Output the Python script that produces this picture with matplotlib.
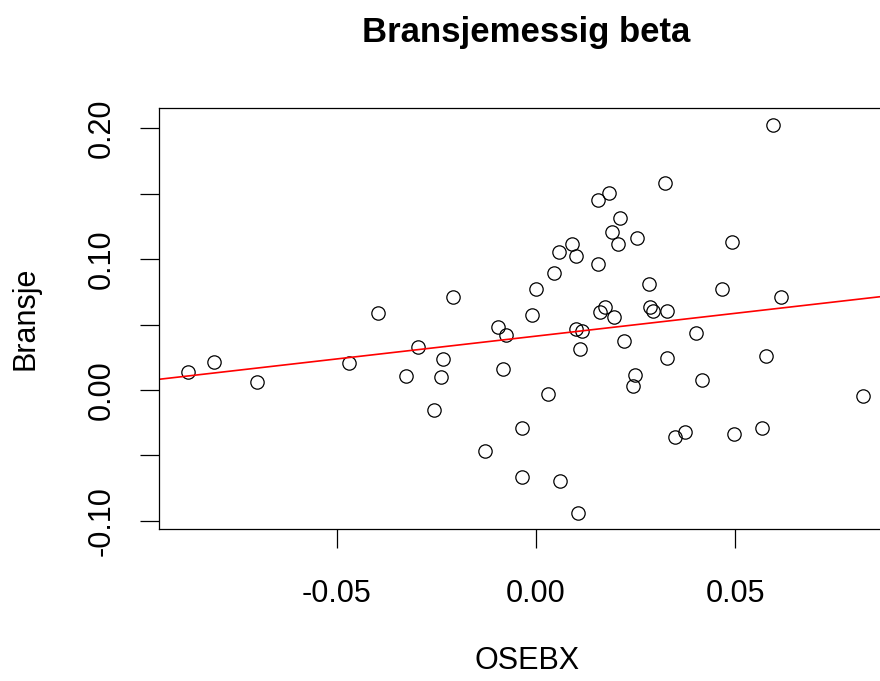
import numpy as np
import matplotlib
matplotlib.use('Agg')
import matplotlib.pyplot as plt

plt.rcParams.update({
    'font.family': ['Liberation Sans', 'DejaVu Sans'],
    'axes.linewidth': 0.9,
})

# monthly returns
osebx = [-0.0872, -0.0807, -0.0701, -0.0468, -0.0396, -0.0325, -0.0295, -0.0234,
         -0.0239, -0.0209, -0.0255, -0.0094, -0.0076, -0.0082, -0.0128, -0.0036,
         -0.0036, 0.0594, 0.0324, 0.0182, 0.0156, 0.0212, 0.0192, 0.0207,
         0.0253, 0.0090, 0.0059, 0.0101, 0.0492, 0.0156, 0.0044, -0.0001,
         0.0283, 0.0466, 0.0614, -0.0011, 0.0172, 0.0161, 0.0197, 0.0287,
         0.0294, 0.0329, 0.0101, 0.0115, 0.0110, 0.0222, 0.0401, 0.0329,
         0.0577, 0.0248, 0.0243, 0.0416, 0.0030, 0.0821, 0.0349, 0.0375,
         0.0496, 0.0568, 0.0060, 0.0106]
bransje = [0.0140, 0.0216, 0.0064, 0.0204, 0.0591, 0.0109, 0.0326, 0.0235,
           0.0097, 0.0713, -0.0153, 0.0482, 0.0418, 0.0161, -0.0464, -0.0293,
           -0.0663, 0.2029, 0.1580, 0.1504, 0.1453, 0.1315, 0.1208, 0.1114,
           0.1162, 0.1114, 0.1053, 0.1022, 0.1129, 0.0961, 0.0897, 0.0775,
           0.0808, 0.0775, 0.0713, 0.0573, 0.0637, 0.0594, 0.0556, 0.0637,
           0.0606, 0.0604, 0.0464, 0.0451, 0.0311, 0.0375, 0.0436, 0.0247,
           0.0262, 0.0112, 0.0033, 0.0079, -0.0031, -0.0046, -0.0357, -0.0324,
           -0.0339, -0.0293, -0.0693, -0.0943]

# fitted line (abline)
intercept = 0.0412
slope = 0.349

x_ticks = [-0.05, 0.0, 0.05]
x_ticklabels = ['-0.05', '0.00', '0.05']
y_ticks = [-0.10, -0.05, 0.0, 0.05, 0.10, 0.15, 0.20]
y_ticklabels = ['-0.10', '', '0.00', '', '0.10', '', '0.20']

fig = plt.figure(figsize=(8.8, 6.81), dpi=100)
# plot region runs past the right edge, as in the cropped original
ax = fig.add_axes([159.3 / 880, 1 - 529.3 / 681, 734.6 / 880, 421.0 / 681])

ax.plot(osebx, bransje, 'o', ms=9.6, mfc='none', mec='black', mew=0.9)
ax.axline((0, intercept), slope=slope, color='red', lw=1.2)

ax.set_xlim(-0.0945, 0.0898)
ax.set_ylim(-0.1065, 0.2154)
ax.set_xticks(x_ticks)
ax.set_xticklabels(x_ticklabels)
ax.set_yticks(y_ticks)
ax.set_yticklabels(y_ticklabels, rotation=90, va='center')
ax.tick_params(length=13.7, width=0.9, labelsize=22, color='black')
ax.tick_params(axis='x', pad=22)
ax.tick_params(axis='y', pad=17)

ax.set_title('Bransjemessig beta', fontsize=25, fontweight='bold', pad=48)
ax.set_xlabel('OSEBX', fontsize=22, labelpad=27)
ax.set_ylabel('Bransje', fontsize=22, labelpad=33)

fig.savefig('out.png', dpi=100)
